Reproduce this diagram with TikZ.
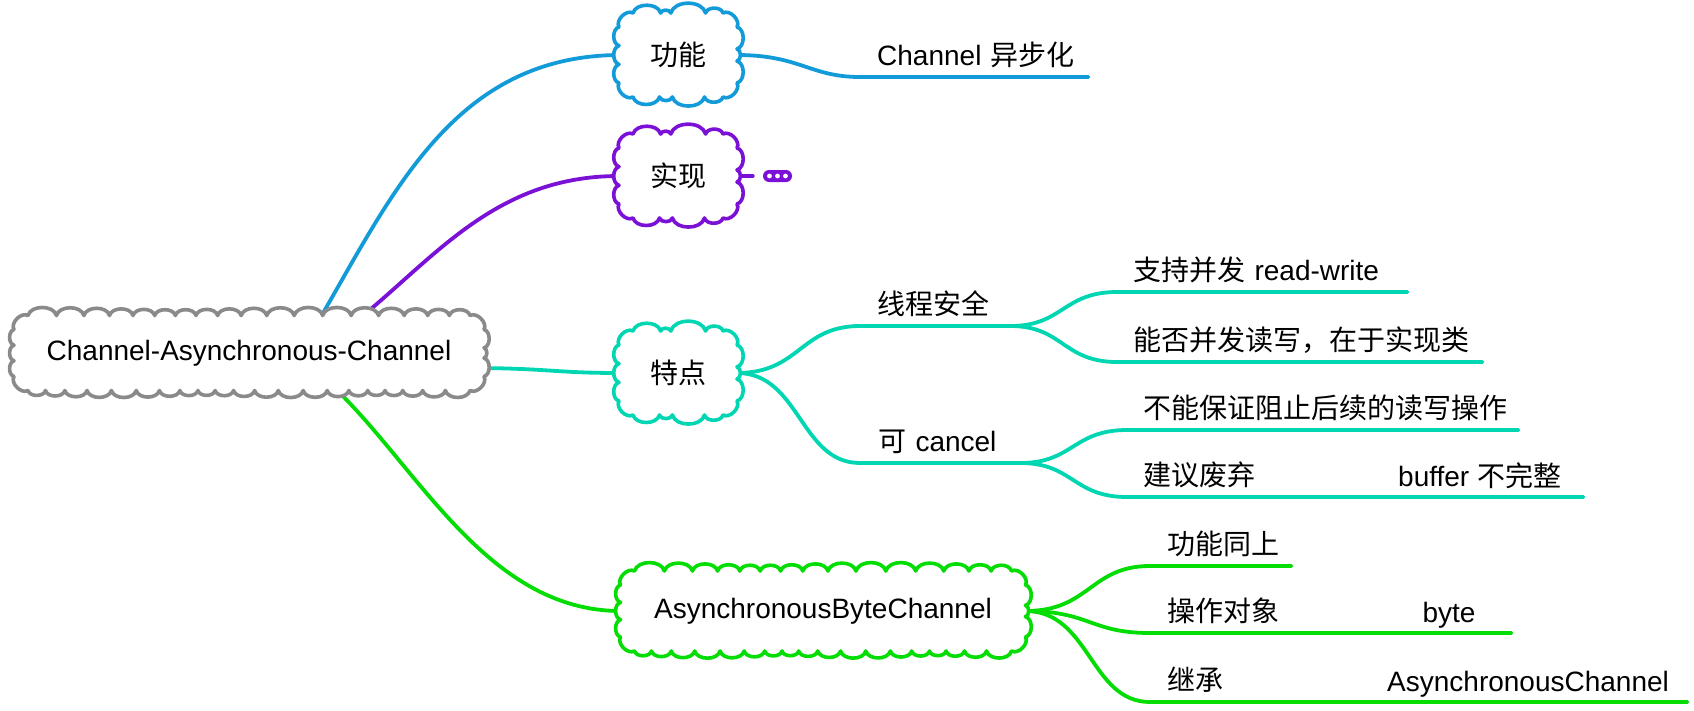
\documentclass[tikz,border=0pt]{standalone}
\usepackage{fontspec}
\setmainfont{Liberation Sans}
\newfontfamily\cjkf{Noto Sans CJK SC}
\newcommand{\zh}[1]{{\cjkf #1}}
\usetikzlibrary{calc}
\pgfdeclarelayer{bg}
\pgfdeclarelayer{cloudlayer}
\pgfsetlayers{bg,cloudlayer,main}
\definecolor{cblue}{RGB}{18,155,216}
\definecolor{cpurple}{RGB}{123,16,214}
\definecolor{cteal}{RGB}{0,214,178}
\definecolor{cgreen}{RGB}{3,221,3}
\definecolor{cgray}{RGB}{138,138,138}
% #1 node name, #2 colour : scalloped cloud outline round the node
\newcommand{\drawcloud}[2]{%
  \begin{pgfonlayer}{cloudlayer}
  \path (#1.north west) coordinate (clnw) (#1.south east) coordinate (clse);
  \path let \p1=(clnw), \p2=(clse) in
    \pgfextra{%
      \pgfmathsetmacro\cldw{\x2-\x1}%
      \pgfmathsetmacro\cldh{\y1-\y2}%
      \xdef\cldW{\cldw}\xdef\cldH{\cldh}};
  \pgfmathsetmacro\cldr{14}%
  \pgfmathtruncatemacro\cldnh{max(1,round((\cldW-2*\cldr)/25))}%
  \pgfmathtruncatemacro\cldnb{max(1,round((\cldW-2*\cldr)/21))}%
  \pgfmathtruncatemacro\cldnv{max(1,round((\cldH-2*\cldr)/18))}%
  \pgfmathsetmacro\cldsh{(\cldW-2*\cldr)/\cldnh}%
  \pgfmathsetmacro\cldsb{(\cldW-2*\cldr)/\cldnb}%
  \pgfmathsetmacro\cldsv{(\cldH-2*\cldr)/\cldnv}%
  \pgfmathsetmacro\cldah{540/\cldnh}%
  \pgfmathsetmacro\cldab{900/\cldnb}%
  \pgfmathsetmacro\cldav{360/\cldnv}%
  \pgfmathsetmacro\cldaw{540/\cldnv}%
  \draw[cloudline=#2] ($(clnw)+(\cldr,0)$)
    \foreach \i [evaluate=\i as \px using {\cldr+\cldsh*\i+0.32*\cldsh*sin(\cldah*\i)}] in {1,...,\cldnh}
      { to[bump] ($(clnw)+(\px,0)$) }
    to[bump] ($(clnw)+(\cldW,\cldr)$)
    \foreach \i [evaluate=\i as \py using {\cldr+\cldsv*\i+0.2*\cldsv*sin(\cldav*\i)}] in {1,...,\cldnv}
      { to[bump] ($(clnw)+(\cldW,\py)$) }
    to[bump] ($(clnw)+(\cldW-\cldr,\cldH)$)
    \foreach \i [evaluate=\i as \px using {\cldW-\cldr-\cldsb*\i-0.25*\cldsb*sin(\cldab*\i)}] in {1,...,\cldnb}
      { to[bump] ($(clnw)+(\px,\cldH)$) }
    to[bump] ($(clnw)+(0,\cldH-\cldr)$)
    \foreach \i [evaluate=\i as \py using {\cldH-\cldr-\cldsv*\i-0.2*\cldsv*sin(\cldaw*\i)}] in {1,...,\cldnv}
      { to[bump] ($(clnw)+(0,\py)$) }
    to[bump] ($(clnw)+(\cldr,0)$) -- cycle;
  \end{pgfonlayer}%
}
\begin{document}
\begin{tikzpicture}[x=1pt,y=-1pt,
  every node/.style={font=\fontsize{28}{34}\selectfont, text=black},
  cloudnode/.style={inner sep=0pt, outer sep=0pt},
  cloudline/.style={draw=#1, fill=white, line width=3.6pt, line join=round},
  bump/.style={bend left=75},
  conn/.style={draw=#1, line width=3.8pt, line cap=round},
  topic/.style={anchor=south west, inner xsep=0pt, inner ysep=0pt, text depth=11pt,
    text width=#1, align=left},
  extra/.style={anchor=base west, inner sep=0pt}
]
\useasboundingbox (0,0) rectangle (1694,710);

% clouds (text nodes; outlines drawn by \drawcloud)
\node[cloudnode, minimum width=470pt, minimum height=75pt] (root) at (249,353) {Channel-Asynchronous-Channel};
\node[cloudnode, minimum width=118pt, minimum height=84pt] (gn) at (678,55) {\zh{功能}};
\node[cloudnode, minimum width=118pt, minimum height=84pt] (sx) at (678,176) {\zh{实现}};
\node[cloudnode, minimum width=118pt, minimum height=84pt] (td) at (678,373) {\zh{特点}};
\node[cloudnode, minimum width=405pt, minimum height=80pt] (ab) at (823,611) {AsynchronousByteChannel};
\drawcloud{root}{cgray}
\drawcloud{gn}{cblue}
\drawcloud{sx}{cpurple}
\drawcloud{td}{cteal}
\drawcloud{ab}{cgreen}

% collapsed marker
\node[fill=cpurple, rounded corners=6pt, inner sep=0pt, minimum width=29pt, minimum height=12pt] (more) at (777.5,176) {};
\fill[white] (769.5,176) circle (2.4) (777.5,176) circle (2.4) (785.5,176) circle (2.4);

% topics
\node[topic=228pt] (f1) at (860,77) {\hspace*{17pt}Channel \zh{异步化}};

\node[topic=150pt] (t1) at (860,326) {\hspace*{17pt}\zh{线程安全}};
\node[topic=160pt] (t2) at (860,463) {\hspace*{18pt}\zh{可} cancel};
\node[topic=290pt] (t11) at (1117,292) {\hspace*{16pt}\zh{支持并发} read-write};
\node[topic=365pt] (t12) at (1117,362) {\hspace*{16pt}\zh{能否并发读写，在于实现类}};
\node[topic=391pt] (t21) at (1127,430) {\hspace*{16pt}\zh{不能保证阻止后续的读写操作}};
\node[topic=456pt] (t22) at (1127,497) {\hspace*{16pt}\zh{建议废弃}};
\node[extra] (t22b) at (1398,486) {buffer \zh{不完整}};

\node[topic=141pt] (a1) at (1150,566) {\hspace*{17pt}\zh{功能同上}};
\node[topic=361pt] (a2) at (1150,633) {\hspace*{17pt}\zh{操作对象}};
\node[anchor=base, inner sep=0pt] (a2b) at (1449,622) {byte};
\node[topic=537pt] (a3) at (1150,702) {\hspace*{17pt}\zh{继承}};
\node[extra] (a3b) at (1387,691) {AsynchronousChannel};

\coordinate (rb) at (312,332);
\coordinate (rp) at (345,330);
\coordinate (rt) at (470,368);
\coordinate (rg) at (320,375);

\begin{pgfonlayer}{bg}
\draw[conn=cblue] (rb) .. controls (390,200) and (450,56) .. (gn.west);
\draw[conn=cpurple] (rp) .. controls (430,265) and (490,176) .. (sx.west);
\draw[conn=cteal] (rt) .. controls (545,368) and (555,373) .. (td.west);
\draw[conn=cgreen] (rg) .. controls (410,450) and (480,611) .. (ab.west);

\draw[conn=cblue] (gn.east) .. controls (800,55) and (810,77) .. (f1.south west) -- (f1.south east);
\draw[conn=cpurple] (sx.east) -- ([xshift=-10pt]more.west);

\draw[conn=cteal] (td.east) .. controls (800,373) and (800,326) .. (t1.south west) -- (t1.south east);
\draw[conn=cteal] (td.east) .. controls (800,373) and (800,463) .. (t2.south west) -- (t2.south east);
\draw[conn=cteal] (t1.south east) .. controls (1063,326) and (1063,292) .. (t11.south west) -- (t11.south east);
\draw[conn=cteal] (t1.south east) .. controls (1063,326) and (1063,362) .. (t12.south west) -- (t12.south east);
\draw[conn=cteal] (t2.south east) .. controls (1073,463) and (1073,430) .. (t21.south west) -- (t21.south east);
\draw[conn=cteal] (t2.south east) .. controls (1073,463) and (1073,497) .. (t22.south west) -- (t22.south east);

\draw[conn=cgreen] (ab.east) .. controls (1090,611) and (1090,566) .. (a1.south west) -- (a1.south east);
\draw[conn=cgreen] (ab.east) .. controls (1090,611) and (1090,633) .. (a2.south west) -- (a2.south east);
\draw[conn=cgreen] (ab.east) .. controls (1090,611) and (1090,702) .. (a3.south west) -- (a3.south east);
\end{pgfonlayer}
\end{tikzpicture}
\end{document}
